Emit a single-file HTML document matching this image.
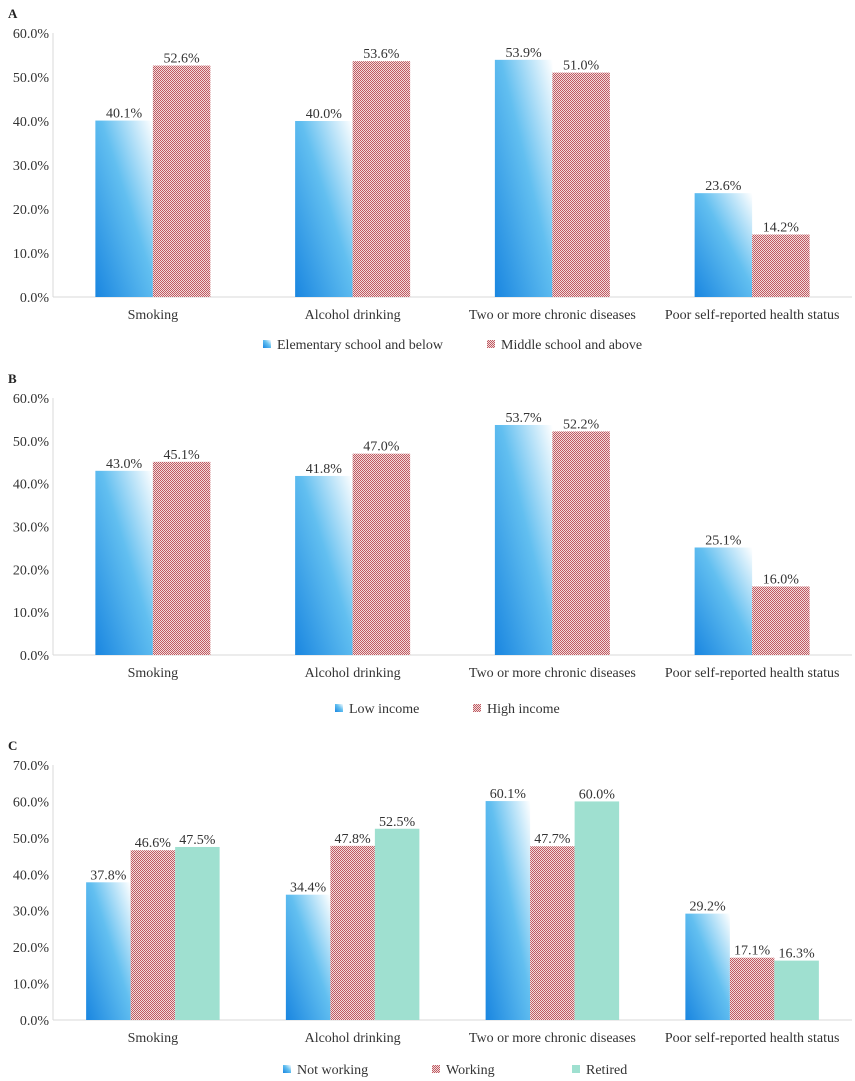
<!DOCTYPE html>
<html><head><meta charset="utf-8"><style>
body{margin:0;background:#fff}
svg{display:block;font-family:"Liberation Serif",serif}
</style></head><body>
<svg id="c" width="855" height="1081" viewBox="0 0 855 1081">
<defs>
<pattern id="hatch" width="2" height="2" patternUnits="userSpaceOnUse">
<rect width="2" height="2" fill="#f2dcdc"/><rect width="1" height="1" fill="#c05a62"/><rect x="1" y="1" width="1" height="1" fill="#c05a62"/>
</pattern>
<linearGradient id="blue" x1="0" y1="1" x2="1" y2="0">
<stop offset="0" stop-color="#1a86e0"/><stop offset="0.55" stop-color="#62bff0"/><stop offset="1" stop-color="#ffffff"/>
</linearGradient>
</defs>
</svg>
<script>
const categories=["Smoking","Alcohol drinking","Two or more chronic diseases","Poor self-reported health status"];
const seriesA1=[40.1,40.0,53.9,23.6];
const seriesA2=[52.6,53.6,51.0,14.2];
const seriesB1=[43.0,41.8,53.7,25.1];
const seriesB2=[45.1,47.0,52.2,16.0];
const seriesC1=[37.8,34.4,60.1,29.2];
const seriesC2=[46.6,47.8,47.7,17.1];
const seriesC3=[47.5,52.5,60.0,16.3];
const legendA=["Elementary school and below","Middle school and above"];
const legendB=["Low income","High income"];
const legendC=["Not working","Working","Retired"];
const ticksA=[0,10,20,30,40,50,60];
const ticksC=[0,10,20,30,40,50,60,70];

const NS="http://www.w3.org/2000/svg";
const svg=document.getElementById('c');
function el(t,a,p){const e=document.createElementNS(NS,t);for(const k in a)e.setAttribute(k,a[k]);(p||svg).appendChild(e);return e;}
const fills=["url(#blue)","url(#hatch)","#9fe0d0"];
function panel(letter,top,base,max,ticks,series,legend,legY,legX){
  const g=el('g',{});
  
  
  const L=el('text',{x:8,y:top-15,'font-size':13,'font-weight':'bold',fill:'#222'},g);L.textContent=letter;
  
  
  const x0=53,x1=852,cw=(x1-x0)/4;
  const y=v=>base-(v/max)*(base-top);
  el('line',{x1:x0,y1:top,x2:x0,y2:base,stroke:'#d9d9d9'},g);
  el('line',{x1:x0,y1:base,x2:x1,y2:base,stroke:'#d9d9d9'},g);
  ticks.forEach(t=>{const tx=el('text',{x:x0-4,y:y(t)+5,'text-anchor':'end','font-size':14,fill:'#333'},g);tx.textContent=t.toFixed(1)+'%';
    
    });
  const n=series.length, bw=n==2?57.5:44.5;
  categories.forEach((c,i)=>{
    const cx=x0+cw*(i+0.5);
    const ct=el('text',{x:cx,y:base+22,'text-anchor':'middle','font-size':14,fill:'#333'},g);ct.textContent=c;
    
    
    series.forEach((s,j)=>{
      const bx=cx-bw*n/2+j*bw;
      const r=el('rect',{x:bx,y:y(s[i]),width:bw,height:base-y(s[i]),fill:fills[j]},g);
      
      
      const vt=el('text',{x:bx+bw/2,y:y(s[i])-3,'text-anchor':'middle','font-size':14,fill:'#333'},g);vt.textContent=s[i].toFixed(1)+'%';
      
      
    });
  });
  legend.forEach((t,j)=>{
    const lx=legX[j];
    const sq=el('rect',{x:lx,y:legY-9,width:8,height:8,fill:fills[j]},g);
    
    
    const lt=el('text',{x:lx+14,y:legY,'font-size':14,fill:'#333'},g);lt.textContent=t;
    
    
  });
}
panel('A',33,297,60,ticksA,[seriesA1,seriesA2],legendA,349,[263,487]);
panel('B',398,655,60,ticksA,[seriesB1,seriesB2],legendB,713,[335,473]);
panel('C',765,1020,70,ticksC,[seriesC1,seriesC2,seriesC3],legendC,1074,[283,432,572]);
</script>
</body></html>
